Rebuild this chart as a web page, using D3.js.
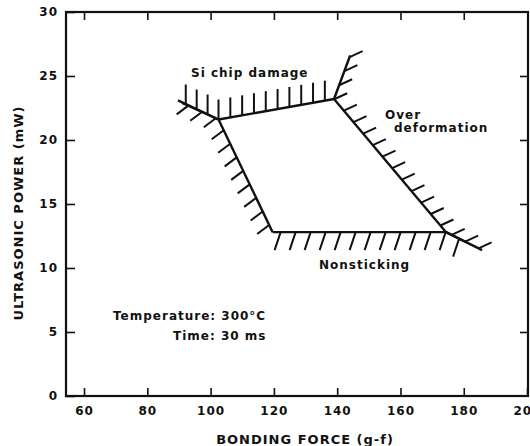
<!DOCTYPE html>
<html>
<head>
<meta charset="utf-8">
<script src="https://cdn.jsdelivr.net/npm/d3@7"></script>
<style>
  body { margin: 0; background: #fff; }
  text { font-family: "DejaVu Sans", sans-serif; font-weight: bold; fill: #111; letter-spacing: 1px; }
</style>
</head>
<body>
<div id="chart"></div>
<script>
// axis ticks
const xTicks = [60, 80, 100, 120, 140, 160, 180, 200];
const yTicks = [0, 5, 10, 15, 20, 25, 30];

// process window boundaries (bonding force g-f, ultrasonic power mW)
const siChipDamage = [[91, 22.9], [102.5, 21.6], [139, 23.2]];
const lowForceEdge = [[119.6, 12.8], [102.5, 21.6], [89.7, 23.1]];
const overDeformation = [[185.8, 11.4], [174.4, 12.8], [139, 23.2], [144.1, 26.6]];
const nonsticking = [[119.6, 12.8], [174.4, 12.8], [180.5, 12.05]];

const width = 530, height = 446;
const margin = {top: 12, right: 2, bottom: 50, left: 66};

const svg = d3.select("#chart").append("svg")
  .attr("width", width)
  .attr("height", height);

const x = d3.scaleLinear().domain([54.3, 200.3]).range([margin.left, width - margin.right]);
const y = d3.scaleLinear().domain([0, 30]).range([height - margin.bottom, margin.top]);

// axes, ticks pointing inward
svg.append("g")
  .attr("transform", `translate(0,${y(0)})`)
  .call(d3.axisBottom(x).tickValues(xTicks).tickSizeInner(-8).tickSizeOuter(0).tickPadding(10))
  .call(g => g.selectAll("text").style("font-size", "12px"));

svg.append("g")
  .attr("transform", `translate(${x.range()[0]},0)`)
  .call(d3.axisLeft(y).tickValues(yTicks).tickSizeInner(-9).tickSizeOuter(0).tickPadding(8))
  .call(g => g.selectAll("text").style("font-size", "12px"));

svg.append("g")
  .attr("transform", `translate(0,${y(30)})`)
  .call(d3.axisTop(x).tickValues(xTicks.slice(0, -1)).tickSizeInner(-8).tickSizeOuter(0).tickFormat(""));

svg.append("g")
  .attr("transform", `translate(${x.range()[1]},0)`)
  .call(d3.axisRight(y).tickValues(yTicks.slice(1, -1)).tickSizeInner(-8).tickSizeOuter(0).tickFormat(""));

svg.selectAll(".domain").remove();
svg.selectAll(".tick line").attr("stroke", "#111").attr("stroke-width", 1.6);
svg.selectAll(".tick text").attr("fill", "#111");

// frame
svg.append("rect")
  .attr("x", x.range()[0]).attr("y", y(30))
  .attr("width", x.range()[1] - x.range()[0])
  .attr("height", y(0) - y(30))
  .attr("fill", "none").attr("stroke", "#111").attr("stroke-width", 2.2);

// boundaries with hatching on the forbidden side
const boundaries = [
  {pts: siChipDamage, off: [0, -20], step: 12, start: 4},
  {pts: lowForceEdge, off: [-12, 9], step: 15, start: 8},
  {pts: overDeformation, off: [13, -6], step: 15, start: 4},
  {pts: nonsticking, off: [-6, 18], step: 15, start: 8}
];

const line = d3.line().x(d => x(d[0])).y(d => y(d[1]));
const plot = svg.append("g");

boundaries.forEach(b => {
  plot.append("path")
    .attr("d", line(b.pts))
    .attr("fill", "none").attr("stroke", "#111").attr("stroke-width", 2.4)
    .attr("stroke-linejoin", "round");

  // hatch positions along the pixel path
  const px = b.pts.map(p => [x(p[0]), y(p[1])]);
  const marks = [];
  let carry = b.start;
  for (let i = 0; i < px.length - 1; i++) {
    const [x0, y0] = px[i], [x1, y1] = px[i + 1];
    const L = Math.hypot(x1 - x0, y1 - y0);
    let d = carry;
    for (; d <= L; d += b.step) {
      marks.push([x0 + (x1 - x0) * d / L, y0 + (y1 - y0) * d / L]);
    }
    carry = d - L;
  }
  plot.selectAll(null)
    .data(marks)
    .enter().append("line")
    .attr("x1", d => d[0]).attr("y1", d => d[1])
    .attr("x2", d => d[0] + b.off[0]).attr("y2", d => d[1] + b.off[1])
    .attr("stroke", "#111").attr("stroke-width", 2);
});

// labels
const notes = [
  {t: "Si chip damage", x: 191, y: 77},
  {t: "Over", x: 385, y: 119},
  {t: "deformation", x: 394, y: 132},
  {t: "Nonsticking", x: 319, y: 269},
  {t: "Temperature: 300°C", x: 113, y: 320},
  {t: "Time: 30 ms", x: 173, y: 340}
];
svg.selectAll(null).data(notes).enter().append("text")
  .attr("x", d => d.x).attr("y", d => d.y)
  .style("font-size", "12px")
  .text(d => d.t);

svg.append("text")
  .attr("x", (x.range()[0] + x.range()[1]) / 2 + 8).attr("y", 444)
  .attr("text-anchor", "middle")
  .style("font-size", "13px")
  .text("BONDING FORCE (g-f)");

svg.append("text")
  .attr("transform", "translate(23,213) rotate(-90)")
  .attr("text-anchor", "middle")
  .style("font-size", "13px")
  .text("ULTRASONIC POWER (mW)");
</script>
</body>
</html>
